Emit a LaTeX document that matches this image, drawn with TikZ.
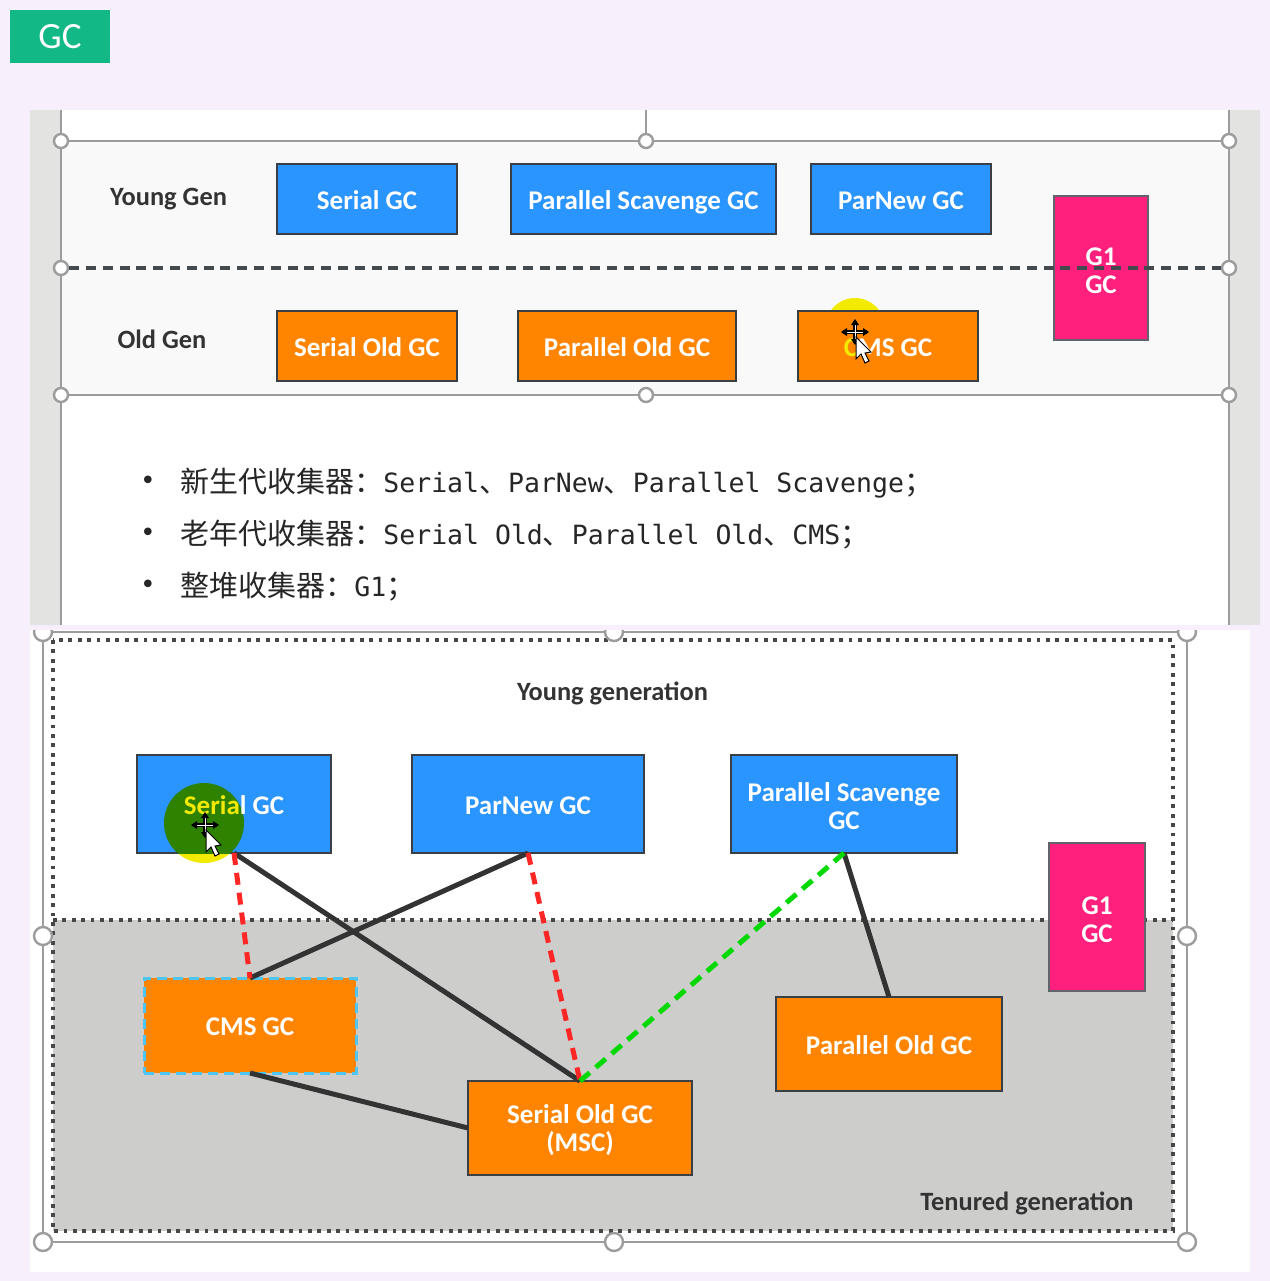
\documentclass[tikz,border=0pt]{standalone}
\usepackage{fontspec}
\setmainfont{Carlito}
\setmonofont{DejaVu Sans Mono}
\newfontfamily\cjk{Noto Sans CJK SC}
\definecolor{lilac}{HTML}{F8EFFD}
\definecolor{tagGreen}{HTML}{12B886}
\definecolor{sideGray}{HTML}{E3E4E2}
\definecolor{bandGray}{HTML}{F8F9F8}
\definecolor{oldGray}{HTML}{CDCECC}
\definecolor{youngBlue}{HTML}{2A94FF}
\definecolor{oldOrange}{HTML}{FF8500}
\definecolor{gOnePink}{HTML}{FF1F7C}
\definecolor{edgeDark}{HTML}{3A3F45}
\definecolor{lineDark}{HTML}{333333}
\definecolor{frameGray}{HTML}{9C9C9C}
\definecolor{markYellow}{HTML}{F2EA00}
\definecolor{markGreen}{HTML}{2F8200}
\tikzset{
    boxdim/.style 2 args={minimum width=#1*.5pt, minimum height=#2*.5pt},
    gcbox/.style={draw=edgeDark, line width=1.4pt, text=white, align=center, inner sep=0pt,
        outer sep=0pt, text height=10pt, text depth=0pt, font=\bfseries\fontsize{13.5}{14}\selectfont},
    twolines/.style={text height=, text depth=},
    young/.style={gcbox, fill=youngBlue},
    old/.style={gcbox, fill=oldOrange},
    gone/.style={gcbox, twolines, fill=gOnePink, draw=edgeDark!80},
    genlabel/.style={text=lineDark, font=\bfseries\fontsize{13.2}{14}\selectfont, inner sep=0pt},
    handle/.style={circle, draw=frameGray, fill=white, line width=1.2pt, inner sep=0pt, minimum size=#1*.5pt},
    framed/.style={draw=frameGray, line width=.8pt},
    dots/.style={draw=lineDark!90, line width=1.6pt, dash pattern=on 1.9pt off 2.8pt},
    solidlink/.style={lineDark, line width=2.5pt},
    redlink/.style={draw=red!85!white, line width=2.5pt, dash pattern=on 6pt off 4pt},
    greenlink/.style={draw=green!85!black, line width=2.5pt, dash pattern=on 6.5pt off 4pt},
    listline/.style={anchor=west, inner sep=0pt, text=black!85, font=\fontsize{13.25}{15}\ttfamily},
    listdot/.style={inner sep=0pt, text=black!85, font=\fontsize{13}{15}\ttfamily},
}
\newcommand{\cn}[1]{{\cjk\fontsize{14.5}{15}\selectfont #1}}
\newcommand{\cnColon}{\cn{\char"FF1A}}
\newcommand{\cnSemi}{\cn{\char"FF1B}}
\newcommand{\topStrut}{\rule{0pt}{12pt}}
\newcommand{\moveCursor}[2]{
    \begin{scope}[shift={(#1,#2)}]
        \draw[black, line width=1.6pt] (0,-11)--(0,11) (-12,0)--(12,0);
        \draw[white, line width=.5pt] (0,-9)--(0,9) (-10,0)--(10,0);
        \fill (0,-13)--(-4,-7)--(4,-7)--cycle (0,13)--(-4,7)--(4,7)--cycle
            (-14,0)--(-8,-4)--(-8,4)--cycle (14,0)--(8,-4)--(8,4)--cycle;
        \draw[fill=white, line width=.5pt] (1,5)--(1,27)--(6,22)--(10,31)--(14,29)--(10,21)--(16,20)--cycle;
    \end{scope}
}

\begin{document}
\begin{tikzpicture}[x=.5pt, y=-.5pt]
    \useasboundingbox (0,0) rectangle (1270,1281);
    \fill[lilac] (0,0) rectangle (1270,1281);
    \node[fill=tagGreen, text=white, inner sep=0pt, boxdim={100}{53}, font=\fontsize{18.5}{20}\selectfont] (tag) at (60,36.5) {GC};

    % upper slide
    \fill[white] (30,110) rectangle (1260,625);
    \fill[sideGray] (30,110) rectangle (61,625) (1229,110) rectangle (1260,625);
    \fill[bandGray] (61,141) rectangle (1229,395);
    \draw[framed] (61,110)--(61,625) (1229,110)--(1229,625) (646,110)--(646,141);
    \draw[framed] (61,141) rectangle (1229,395);
    \foreach \hx/\hy/\hname in {61/141/upA, 646/141/upB, 1229/141/upC, 61/268/upL, 1229/268/upR, 61/395/upD, 646/395/upE, 1229/395/upF}
        \node[handle=14] (\hname) at (\hx,\hy) {};
    \node[genlabel] (youngGen) at (168.5,199) {Young Gen};
    \node[genlabel] (oldGen) at (162,339) {Old Gen};
    \fill[markYellow] (855,328) circle (30);
    \node[young, boxdim={180}{70}] (serialA) at (367,199) {Serial GC};
    \node[young, boxdim={265}{70}] (scavengeA) at (643.5,199) {Parallel Scavenge GC};
    \node[young, boxdim={180}{70}] (parnewA) at (901,199) {ParNew GC};
    \node[old, boxdim={180}{70}] (serialOldA) at (367,346) {Serial Old GC};
    \node[old, boxdim={218}{70}] (parOldA) at (627,346) {Parallel Old GC};
    \node[old, boxdim={180}{70}] (cmsA) at (888,346) {{\color{markYellow}C}MS GC};
    \node[gone, boxdim={94}{144}] (gOneA) at (1101,268) {\topStrut G1\\GC};
    \draw[edgeDark!95, line width=1.6pt, dash pattern=on 5pt off 3.4pt] (upL)--(upR);
    \moveCursor{855}{332}
    \node[listdot] (bulletA) at (148,483) {•};
    \node[listdot] (bulletB) at (148,535) {•};
    \node[listdot] (bulletC) at (148,587) {•};
    \node[listline] (listA) at (180,483) {\cn{新生代收集器}\cnColon Serial\cn{、}ParNew\cn{、}Parallel Scavenge\cnSemi};
    \node[listline] (listB) at (180,535) {\cn{老年代收集器}\cnColon Serial Old\cn{、}Parallel Old\cn{、}CMS\cnSemi};
    \node[listline] (listC) at (180,587) {\cn{整堆收集器}\cnColon G1\cnSemi};

    % lower slide
    \begin{scope}
        \clip (30,630) rectangle (1250,1272);
        \fill[white] (30,630) rectangle (1250,1272);
        \fill[oldGray] (53,920) rectangle (1173,1231);
        \draw[framed, line width=1pt] (43,632) rectangle (1187,1242);
        \draw[dots] (53,640) rectangle (1173,1231) (53,920)--(1173,920);
        \foreach \hx/\hy/\hname in {43/632/lowA, 614/632/lowB, 1187/632/lowC, 43/936/lowL, 1187/936/lowR, 43/1242/lowD, 614/1242/lowE, 1187/1242/lowF}
            \node[handle=18] (\hname) at (\hx,\hy) {};
    \end{scope}
    \node[genlabel] (youngLabel) at (612.5,693) {Young generation};
    \node[genlabel] (tenuredLabel) at (1027,1203) {Tenured generation};
    \fill[markYellow] (204,823) circle (40);
    \node[young, boxdim={194}{98}] (serialB) at (234,804) {};
    \begin{scope}
        \clip (137,755) rectangle (331,853);
        \fill[markGreen] (204,823) circle (40);
    \end{scope}
    \node[gcbox, draw=none] (serialText) at (234,804) {{\color{markYellow}Seria}l GC};
    \node[young, boxdim={232}{98}] (parnewB) at (528,804) {ParNew GC};
    \node[young, twolines, boxdim={226}{98}] (scavengeB) at (844,804) {\topStrut Parallel Scavenge\\GC};
    \node[gone, boxdim={96}{148}] (gOneB) at (1097,917) {\topStrut G1\\GC};
    \node[old, boxdim={212}{95}, draw=cyan!70!white, line width=1.5pt, dash pattern=on 5pt off 3pt] (cmsB) at (250,1025.5) {CMS GC};
    \node[old, twolines, boxdim={224}{94}] (serialOldB) at (580,1128) {\topStrut Serial Old GC\\(MSC)};
    \node[old, boxdim={226}{94}] (parOldB) at (889,1044) {Parallel Old GC};
    \draw[solidlink] (serialB.south)--(serialOldB.north);
    \draw[solidlink] (parnewB.south)--(cmsB.north);
    \draw[solidlink] (scavengeB.south)--(parOldB.north);
    \draw[solidlink] (cmsB.south)--(serialOldB.west);
    \draw[redlink] (serialB.south)--(cmsB.north);
    \draw[redlink] (parnewB.south)--(serialOldB.north);
    \draw[greenlink] (scavengeB.south)--(serialOldB.north);
    \moveCursor{205}{825}
\end{tikzpicture}
\end{document}
